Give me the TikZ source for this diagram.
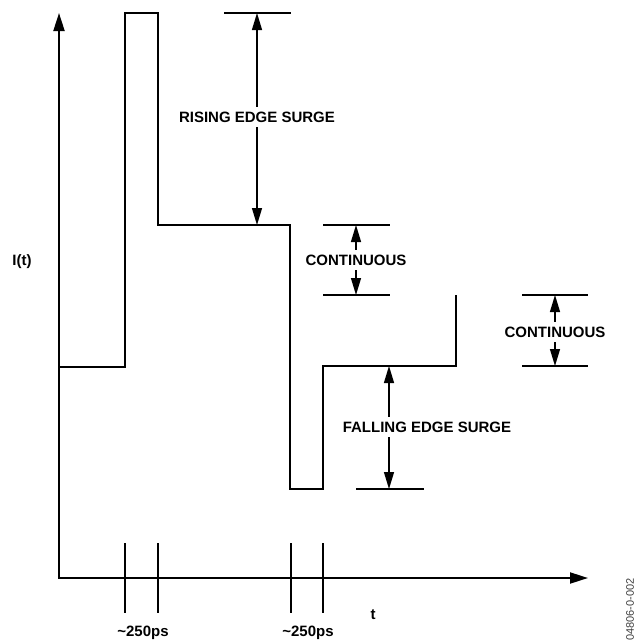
\documentclass[tikz,border=0pt]{standalone}
\usepackage{fontspec}
\setmainfont{Liberation Sans}
\usetikzlibrary{arrows.meta}
\begin{document}
\begin{tikzpicture}[x=1pt,y=-1pt,
  axis/.style={line width=2pt},
  wave/.style={line width=1.4pt},
  ext/.style={line width=1.3pt},
  tickline/.style={line width=1.3pt},
  dim/.style={line width=1.3pt,{Triangle[length=17pt,width=10pt]}-{Triangle[length=17pt,width=10pt]}},
  lbl/.style={font=\fontsize{15}{18}\selectfont\bfseries, fill=white, inner xsep=2pt, inner ysep=5pt},
  txt/.style={font=\fontsize{15}{18}\selectfont\bfseries, inner sep=1pt}]
\useasboundingbox (0,0) rectangle (637,641);
% axes
\coordinate (O) at (59,578);
\coordinate (ytip) at (59,13);
\coordinate (xtip) at (588,578);
\draw[axis,{Triangle[length=18pt,width=11pt]}-{Triangle[length=18pt,width=11pt]}] (ytip) -- (O) -- (xtip);
% waveform
\coordinate (w0) at (59,367);
\coordinate (w1) at (125,367);
\coordinate (w2) at (125,13);
\coordinate (w3) at (158,13);
\coordinate (w4) at (158,225);
\coordinate (w5) at (290,225);
\coordinate (w6) at (290,489);
\coordinate (w7) at (323,489);
\coordinate (w8) at (323,366);
\coordinate (w9) at (456,366);
\coordinate (w10) at (456,295);
\draw[wave] (w0) -- (w1) -- (w2) -- (w3) -- (w4) -- (w5) -- (w6) -- (w7) -- (w8) -- (w9) -- (w10);
% rising edge surge
\coordinate (r1) at (224,13); \coordinate (r2) at (291,13);
\draw[ext] (r1) -- (r2);
\coordinate (ra) at (257,13); \coordinate (rb) at (257,225);
\draw[dim] (ra) -- (rb);
\node[lbl] (rise) at (257,117) {RISING EDGE SURGE};
% continuous 1
\coordinate (c1a) at (323,225); \coordinate (c1b) at (390,225);
\coordinate (c1c) at (323,295); \coordinate (c1d) at (390,295);
\draw[ext] (c1a) -- (c1b);
\draw[ext] (c1c) -- (c1d);
\coordinate (c1t) at (356,225); \coordinate (c1u) at (356,295);
\draw[dim] (c1t) -- (c1u);
\node[lbl] (cont1) at (356,260) {CONTINUOUS};
% continuous 2
\coordinate (c2a) at (522,295); \coordinate (c2b) at (588,295);
\coordinate (c2c) at (522,366); \coordinate (c2d) at (588,366);
\draw[ext] (c2a) -- (c2b);
\draw[ext] (c2c) -- (c2d);
\coordinate (c2t) at (555,295); \coordinate (c2u) at (555,366);
\draw[dim] (c2t) -- (c2u);
\node[lbl] (cont2) at (555,332) {CONTINUOUS};
% falling edge surge
\coordinate (f1) at (356,489); \coordinate (f2) at (424,489);
\draw[ext] (f1) -- (f2);
\coordinate (fa) at (389,366); \coordinate (fb) at (389,489);
\draw[dim] (fa) -- (fb);
\node[lbl] (fall) at (427,427) {FALLING EDGE SURGE};
% ticks
\foreach \n/\x in {t1/125,t2/158,t3/291,t4/323}{
  \coordinate (\n a) at (\x,543); \coordinate (\n b) at (\x,613);
  \draw[tickline] (\n a) -- (\n b);
}
% labels
\node[txt] (ps1) at (143,633) {\textasciitilde250ps};
\node[txt] (ps2) at (308,633) {\textasciitilde250ps};
\node[txt] (tlab) at (373,615) {t};
\node[txt] (ilab) at (22,262) {I(t)};
\node[font=\fontsize{11}{13}\selectfont, text=black!75, rotate=90, anchor=east, inner sep=0pt] (fig) at (630,578) {04806-0-002};
\end{tikzpicture}
\end{document}
